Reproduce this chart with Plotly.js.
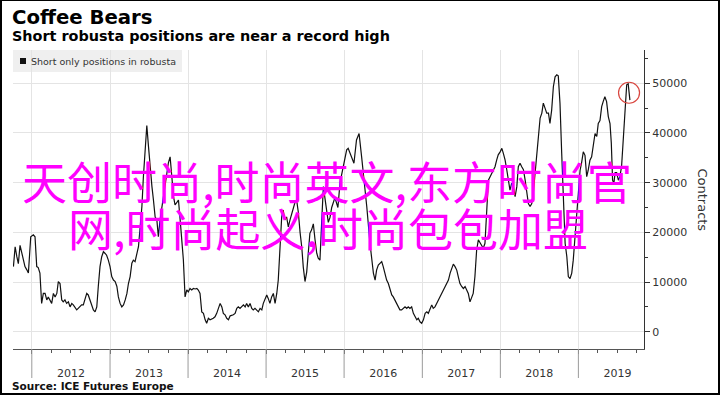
<!DOCTYPE html>
<html>
<head>
<meta charset="utf-8">
<script src="https://cdn.plot.ly/plotly-3.0.1.min.js"></script>
<style>
  html, body { margin: 0; padding: 0; background: #fff; }
  #wrap { position: relative; width: 720px; height: 395px; }
  #chart { position: absolute; left: 0; top: 0; width: 720px; height: 395px; }
  #frame { position: absolute; left: 0; top: 0; width: 720px; height: 395px; box-sizing: border-box;
           border-style: solid; border-color: #000; border-width: 1px 2px 2px 2px; pointer-events: none; }
</style>
</head>
<body>
<div id="wrap"><div id="chart"></div><div id="frame"></div></div>
<script>
// ---- data ----
const seriesName = 'Short only positions in robusta';
const dates = [
'2011-10-07','2011-10-15','2011-10-23','2011-10-30','2011-11-07','2011-11-15','2011-11-22','2011-11-30','2011-12-08','2011-12-16','2011-12-27',
'2012-01-08','2012-01-16','2012-01-24','2012-01-31','2012-02-08','2012-02-16','2012-02-24','2012-03-03','2012-03-11','2012-03-18','2012-03-26',
'2012-04-03','2012-04-11','2012-04-19','2012-04-27','2012-05-04','2012-05-12','2012-05-20','2012-05-27','2012-06-04','2012-06-12','2012-06-20',
'2012-06-28','2012-07-06','2012-07-13','2012-07-21','2012-07-29','2012-08-05','2012-08-13','2012-08-21','2012-08-29','2012-09-06','2012-09-14',
'2012-09-21','2012-09-29','2012-10-07','2012-10-15','2012-10-23','2012-10-31','2012-11-07','2012-11-15','2012-11-23','2012-12-01','2012-12-08',
'2012-12-16','2012-12-24',
'2013-01-01','2013-01-09','2013-01-17','2013-01-25','2013-02-02','2013-02-09','2013-02-17','2013-02-25','2013-03-05','2013-03-13','2013-03-21',
'2013-03-28','2013-04-05','2013-04-13','2013-04-20','2013-04-28','2013-05-06','2013-05-14','2013-05-22','2013-05-30','2013-06-06','2013-06-14',
'2013-06-22','2013-06-30','2013-07-08','2013-07-16','2013-07-23','2013-07-31','2013-08-08','2013-08-15','2013-08-23','2013-09-06','2013-09-20',
'2013-10-01','2013-10-09','2013-10-17','2013-10-25','2013-11-01','2013-11-09','2013-11-17','2013-11-25','2013-12-03','2013-12-10','2013-12-18',
'2013-12-26',
'2014-01-02','2014-01-10','2014-01-18','2014-01-26','2014-02-03','2014-02-11','2014-02-18','2014-02-26','2014-03-06','2014-03-14','2014-03-22',
'2014-03-29','2014-04-06','2014-04-14','2014-04-29','2014-05-07','2014-05-15','2014-05-23','2014-05-31','2014-06-08','2014-06-15','2014-06-23',
'2014-07-01','2014-07-09','2014-07-17','2014-08-01','2014-08-09','2014-08-17','2014-08-24','2014-09-01','2014-09-09','2014-09-17','2014-09-25',
'2014-10-02','2014-10-10','2014-10-18','2014-10-26','2014-11-02','2014-11-10','2014-11-18','2014-11-26','2014-12-04','2014-12-12','2014-12-19',
'2014-12-27',
'2015-01-04','2015-01-11','2015-01-19','2015-01-27','2015-02-04','2015-02-12','2015-02-20','2015-02-27','2015-03-07','2015-03-15','2015-03-22',
'2015-03-30','2015-04-07','2015-04-15','2015-04-23','2015-05-01','2015-05-08','2015-05-16','2015-05-24','2015-06-01','2015-06-09','2015-06-17',
'2015-06-24','2015-07-02','2015-07-10','2015-07-17','2015-07-25','2015-08-02','2015-08-10','2015-08-18','2015-08-26','2015-09-02','2015-09-10',
'2015-09-18','2015-09-26','2015-10-03','2015-10-11','2015-10-19','2015-10-27','2015-11-04','2015-11-19','2015-12-03','2015-12-13','2015-12-27',
'2016-01-05','2016-01-13','2016-01-20','2016-01-28','2016-02-05','2016-02-16','2016-02-28','2016-03-11','2016-03-23','2016-04-08','2016-04-16',
'2016-05-01','2016-05-09','2016-05-17','2016-05-25','2016-06-01','2016-06-09','2016-06-17','2016-06-25','2016-07-02','2016-07-10','2016-07-18',
'2016-07-26','2016-08-03','2016-08-11','2016-08-18','2016-08-26','2016-09-03','2016-09-10','2016-09-18','2016-09-26','2016-10-04','2016-10-12',
'2016-10-20','2016-10-27','2016-11-04','2016-11-12','2016-11-20','2016-11-28','2016-12-06','2016-12-13','2016-12-21','2016-12-29',
'2017-01-06','2017-01-14','2017-01-22','2017-01-29','2017-02-06','2017-02-14','2017-02-21','2017-03-01','2017-03-09','2017-03-17','2017-03-25',
'2017-04-02','2017-04-09','2017-04-17','2017-04-25','2017-05-03','2017-05-11','2017-05-18','2017-05-26','2017-06-03','2017-06-11','2017-06-18',
'2017-06-26','2017-07-04','2017-07-12','2017-07-20','2017-07-28','2017-08-04','2017-08-12','2017-08-20','2017-08-27','2017-09-04','2017-09-12',
'2017-09-20','2017-09-28','2017-10-06','2017-10-13','2017-10-21','2017-10-29','2017-11-06','2017-11-14','2017-11-22','2017-11-29','2017-12-07',
'2017-12-15','2017-12-22','2017-12-31',
'2018-01-08','2018-01-15','2018-01-23','2018-01-31','2018-02-07','2018-02-15','2018-02-23','2018-03-03','2018-03-11','2018-03-19','2018-03-26',
'2018-04-03','2018-04-11','2018-04-19','2018-04-27','2018-05-04','2018-05-12','2018-05-20','2018-05-28','2018-06-04','2018-06-12','2018-06-20',
'2018-06-28','2018-07-06','2018-07-14','2018-07-21','2018-07-29','2018-08-06','2018-08-14','2018-08-21','2018-08-29','2018-09-06','2018-09-14',
'2018-09-22','2018-09-29','2018-10-07','2018-10-15','2018-10-23','2018-10-31','2018-11-08','2018-11-15','2018-11-23','2018-12-01','2018-12-08',
'2018-12-16','2018-12-24',
'2019-01-01','2019-01-09','2019-01-16','2019-01-24','2019-02-01','2019-02-09','2019-02-16','2019-02-24','2019-03-04','2019-03-12','2019-03-20',
'2019-03-28','2019-04-04','2019-04-12','2019-04-20','2019-04-27','2019-05-05','2019-05-13','2019-05-21','2019-05-29','2019-06-04','2019-06-10',
'2019-06-16','2019-06-22','2019-06-29','2019-07-07','2019-07-14','2019-07-22','2019-07-30','2019-08-07','2019-08-15','2019-08-22','2019-08-30'
];
const contracts = [
13100,17100,15100,13700,17400,15800,15100,13100,12500,11800,19100,
19500,19100,13100,12900,11800,5700,7700,7700,6400,7000,6400,
5700,7700,7000,7700,10100,9700,6400,6000,6400,5700,6000,
5000,5700,5400,5000,4400,4700,5000,5400,5400,6400,7700,
7400,6400,5000,4400,4000,5000,9100,13100,15100,16100,15800,
15400,14400,
13100,11100,10400,10100,9100,7000,5700,5000,5400,6400,7700,
9700,11100,13800,14400,14100,15800,17100,21100,25200,31200,36600,
41500,37200,32600,29200,26500,23100,22500,19100,22500,27000,31000,
34000,35200,31000,27200,25500,26000,26500,22500,17800,14500,7000,
8400,
8000,8700,8400,8700,8600,8700,8400,7700,4000,3700,2400,
1700,2700,2400,2700,3000,3700,4700,5700,5000,3700,3400,
2700,2400,3200,3400,3700,4700,5000,4700,5000,5400,5000,
5700,5000,5700,4700,4400,4700,4400,4000,4700,4400,5700,
6400,
7400,6700,5700,7000,7700,5700,7700,10400,17800,23100,24500,
22500,23100,21100,22500,23800,25200,26000,26500,24000,20000,17000,
13000,10100,12000,15400,19800,20500,21700,18500,15800,14800,14400,
22000,29200,27000,24000,22000,23000,25000,27000,25000,30000,33000,
34600,36600,36900,35900,35200,33900,38600,39900,35200,29200,25200,
17800,14500,11800,10400,12400,13400,13800,14100,13100,11800,10400,
9700,8400,7400,7000,6400,5700,5000,4400,4400,4700,5000,
4700,5000,4700,5000,3700,3000,2400,2700,2000,1700,
2400,3700,4000,3700,4700,5400,4700,5000,5700,6400,7000,
7700,8400,9100,9700,10400,11800,12700,13600,13100,12400,11100,
9700,9100,8700,9100,8400,7700,6000,7000,7700,11100,16400,
18500,17800,17100,16800,17800,25200,30500,31200,31900,32600,33200,
34600,35600,36200,
36900,35900,34600,32600,30500,28500,29900,29200,27200,29200,33200,
33900,33200,32600,30500,27900,25800,25200,25800,27900,31900,35900,
39300,43000,44000,46000,45000,44000,44000,41900,44600,49300,51300,
51700,51500,46000,35900,25800,17800,15100,11100,10700,11800,14400,
18500,23800,
28000,32500,34000,36200,35500,31200,32500,34500,35200,37200,39900,
39300,41900,42500,45300,46300,47300,46300,43300,41900,38000,30500,
29900,32000,32000,30500,31200,33200,39300,46000,49700,49900,46600
];
const yearLabels = ['2012','2013','2014','2015','2016','2017','2018','2019'];
const highlightDate = '2019-08-26';
const highlightValue = 48100;
const titleText = 'Coffee Bears';
const subtitleText = 'Short robusta positions are near a record high';
const sourceText = 'Source: ICE Futures Europe';
const yTitle = 'Contracts';
const overlayLines = ['天创时尚,时尚英文,东方时尚官', '网,时尚起义,时尚包包加盟'];

// ---- chart ----
const FONT = 'DejaVu Sans, Verdana, sans-serif';
const trace = {
  x: dates, y: contracts, type: 'scatter', mode: 'lines', name: seriesName,
  line: { color: '#111111', width: 1.2 }, showlegend: false, hoverinfo: 'skip'
};

const shapes = [
  // legend box
  { type: 'rect', xref: 'paper', yref: 'paper', x0: 0, x1: 0.2678, y0: 0.9264, y1: 1,
    fillcolor: '#efefef', line: { width: 0 }, layer: 'below' },
  { type: 'rect', xref: 'paper', yref: 'paper', x0: 0.0111, x1: 0.0206, y0: 0.9532, y1: 0.9732,
    fillcolor: '#111111', line: { width: 0 }, layer: 'above' },
  // highlight circle
  { type: 'circle', xref: 'x', yref: 'y', xsizemode: 'pixel', ysizemode: 'pixel',
    xanchor: highlightDate, yanchor: highlightValue, x0: -10.5, x1: 10.5, y0: -10.5, y1: 10.5,
    line: { color: '#d9463f', width: 1.2 }, fillcolor: 'rgba(0,0,0,0)' }
];
yearLabels.forEach(function (yr) {
  shapes.push({ type: 'line', xref: 'x', yref: 'paper', x0: yr + '-01-01', x1: yr + '-01-01',
    y0: 0, y1: -0.097, line: { color: '#9a9a9a', width: 1 } });
});

const annotations = [
  { xref: 'paper', yref: 'paper', x: -0.004, y: 1.108, xanchor: 'left', yanchor: 'middle', showarrow: false,
    text: '<b>' + titleText + '</b>', font: { family: FONT, size: 19.7, color: '#000' } },
  { xref: 'paper', yref: 'paper', x: -0.004, y: 1.046, xanchor: 'left', yanchor: 'middle', showarrow: false,
    text: '<b>' + subtitleText + '</b>', font: { family: FONT, size: 14.4, color: '#000' } },
  { xref: 'paper', yref: 'paper', x: 0.0254, y: 0.9632, xanchor: 'left', yanchor: 'middle', showarrow: false,
    text: seriesName, font: { family: FONT, size: 9.5, color: '#333' } },
  { xref: 'paper', yref: 'paper', x: -0.005, y: -0.125, xanchor: 'left', yanchor: 'middle', showarrow: false,
    text: '<b>' + sourceText + '</b>', font: { family: FONT, size: 10.5, color: '#111' } },
  { xref: 'paper', yref: 'paper', x: 1.092, y: 0.5, xanchor: 'center', yanchor: 'middle', showarrow: false,
    textangle: 90, text: yTitle, font: { family: FONT, size: 13, color: '#333' } },
  { xref: 'paper', yref: 'paper', x: 0.4976, y: 0.5652, xanchor: 'center', yanchor: 'middle', showarrow: false,
    text: overlayLines[0], font: { family: 'Noto Sans CJK SC', size: 45, color: '#ff00ff' } },
  { xref: 'paper', yref: 'paper', x: 0.4992, y: 0.408, xanchor: 'center', yanchor: 'middle', showarrow: false,
    text: overlayLines[1], font: { family: 'Noto Sans CJK SC', size: 45, color: '#ff00ff' } }
];

const layout = {
  width: 720, height: 395,
  margin: { l: 13, r: 76, t: 50, b: 46, pad: 0 },
  paper_bgcolor: '#ffffff', plot_bgcolor: 'rgba(0,0,0,0)',
  showlegend: false,
  font: { family: FONT, color: '#333' },
  xaxis: {
    type: 'date', range: ['2011-10-05', '2019-11-04'],
    tick0: '2012-01-01', dtick: 'M12', ticklabelmode: 'period', tickformat: '%Y',
    ticks: 'outside', ticklen: 4, tickcolor: '#555', tickwidth: 1,
    showline: true, linecolor: '#555', linewidth: 1,
    showgrid: true, gridcolor: '#e4e4e4', gridwidth: 1, zeroline: false,
    tickfont: { family: FONT, size: 11, color: '#333' },
    ticklabelstandoff: 10,
    minor: { dtick: 'M3', ticks: 'outside', ticklen: 3, tickcolor: '#555', showgrid: false },
    fixedrange: true
  },
  yaxis: {
    side: 'right', range: [-3480, 56700], tick0: 0, dtick: 10000, tickformat: 'd',
    ticks: 'outside', ticklen: 5, tickcolor: '#333', tickwidth: 1,
    showline: true, linecolor: '#333', linewidth: 1,
    showgrid: true, gridcolor: '#e4e4e4', gridwidth: 1, zeroline: false,
    tickfont: { family: FONT, size: 11, color: '#333' },
    minor: { dtick: 5000, ticks: 'outside', ticklen: 3, tickcolor: '#333', showgrid: false },
    fixedrange: true
  },
  shapes: shapes,
  annotations: annotations
};

Plotly.newPlot('chart', [trace], layout, { displayModeBar: false, staticPlot: true });
</script>
</body>
</html>
